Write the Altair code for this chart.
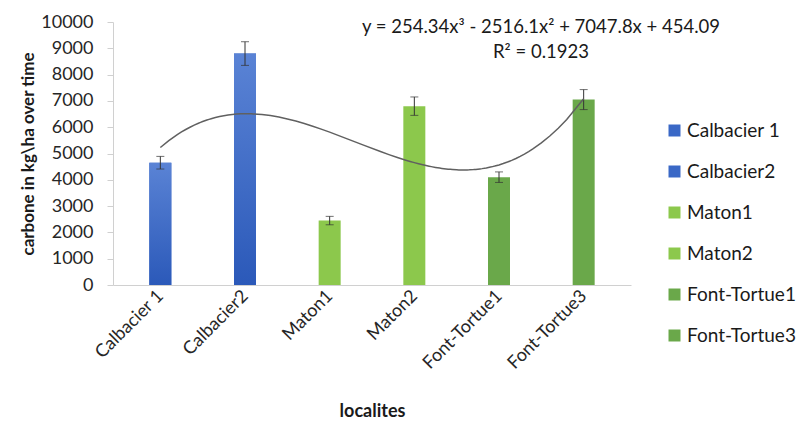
import altair as alt
import pandas as pd

# Sites, measured carbone stock and standard error per site
sites = ["Calbacier 1", "Calbacier2", "Maton1", "Maton2", "Font-Tortue1", "Font-Tortue3"]
carbone = [4650, 8800, 2450, 6800, 4100, 7050]
errors = [240, 450, 160, 350, 200, 380]
site_colors = ["#3a68c6", "#3a68c6", "#8cc84c", "#8cc84c", "#6aa84a", "#6aa84a"]
y_ticks = list(range(0, 10001, 1000))

df = pd.DataFrame({
    "site": sites,
    "idx": list(range(1, len(sites) + 1)),
    "value": carbone,
    "err": errors,
})

FONT = "Lato"
label_list = "[" + ",".join("'" + s + "'" for s in sites) + "]"

x_scale = alt.Scale(domain=[0.5, len(sites) + 0.5], nice=False, zero=False)
x_axis = alt.Axis(
    title="localites",
    values=list(range(1, len(sites) + 1)),
    labelExpr=label_list + "[datum.value - 1]",
    labelAngle=-45,
    labelAlign="right",
    labelBaseline="middle",
    labelFontSize=18,
    labelPadding=8,
    labelOverlap=False,
    ticks=False,
    grid=False,
    domainColor="#d0d0d0",
    titleFontSize=18,
    titleFontWeight="bold",
    titlePadding=30,
)

y_scale = alt.Scale(domain=[0, 10000], nice=False)
y_axis = alt.Axis(
    title="carbone in kg\\ha over time",
    values=y_ticks,
    tickCount=len(y_ticks),
    format="d",
    labelOverlap=False,
    labelFontSize=18,
    labelPadding=14,
    tickSize=6,
    tickColor="#d0d0d0",
    domainColor="#d0d0d0",
    grid=False,
    titleFontSize=17,
    titleFontWeight="bold",
    titlePadding=3,
)

base = alt.Chart(df)
x_enc = alt.X("idx:Q", scale=x_scale, axis=x_axis)

bars = base.mark_bar(size=22).encode(
    x=x_enc,
    y=alt.Y("value:Q", scale=y_scale, axis=y_axis),
    color=alt.Color(
        "site:N",
        scale=alt.Scale(domain=sites, range=site_colors),
        sort=sites,
        legend=alt.Legend(
            title=None,
            orient="none",
            legendX=552,
            legendY=99,
            symbolType="square",
            symbolSize=144,
            symbolStrokeWidth=0,
            labelFontSize=19,
            rowPadding=21,
            labelOffset=3,
        ),
    ),
)

# Calbacier bars carry a soft vertical shading
blue_shade = base.transform_filter(
    "indexof(datum.site, 'Calbacier') == 0"
).mark_bar(
    size=22,
    color=alt.LinearGradient(
        gradient="linear",
        x1=0, y1=0, x2=0, y2=1,
        stops=[
            alt.GradientStop(offset=0, color="#5a83d5"),
            alt.GradientStop(offset=1, color="#2b59b9"),
        ],
    ),
).encode(
    x=x_enc,
    y=alt.Y("value:Q", scale=y_scale, axis=y_axis),
)

err_bars = base.transform_calculate(
    lo="datum.value - datum.err", hi="datum.value + datum.err"
).mark_errorbar(ticks=alt.MarkConfig(size=8), color="#333333", thickness=1).encode(
    x=x_enc,
    y=alt.Y("lo:Q", scale=y_scale, axis=y_axis),
    y2="hi:Q",
)

trend = base.transform_regression(
    "idx", "value", method="poly", order=3
).mark_line(color="#606060", strokeWidth=1.5).encode(
    x=x_enc,
    y=alt.Y("value:Q", scale=y_scale, axis=y_axis),
)

chart = alt.layer(bars, blue_shade, err_bars, trend).properties(
    width=518,
    height=263,
    autosize=alt.AutoSizeParams(type="none"),
    padding={"left": 113, "top": 22, "right": 167, "bottom": 147},
    title=alt.TitleParams(
        text=["y = 254.34x³ - 2516.1x² + 7047.8x + 454.09", "R² = 0.1923"],
        anchor="middle",
        fontSize=18.5,
        fontWeight="normal",
        lineHeight=25,
        dx=169,
        dy=52,
        color="#1a1a1a",
    ),
).configure(
    font=FONT,
).configure_axis(
    labelFont=FONT,
    titleFont=FONT,
    labelColor="#262626",
    titleColor="#1a1a1a",
).configure_legend(
    labelFont=FONT,
    labelColor="#1a1a1a",
).configure_view(
    stroke=None,
)

chart.save("out.html", embed_options={"renderer": "svg", "actions": False})
